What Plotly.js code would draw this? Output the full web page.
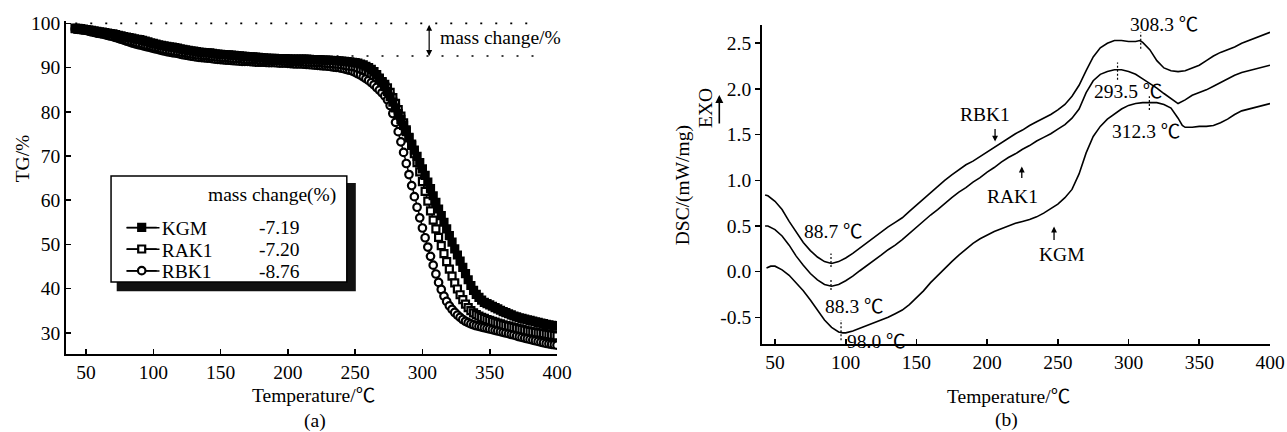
<!DOCTYPE html>
<html>
<head>
<meta charset="utf-8">
<script src="https://cdn.plot.ly/plotly-3.0.1.min.js"></script>
<style>html,body{margin:0;padding:0;background:#fff;}#chart{width:1287px;height:432px;}</style>
</head>
<body>
<div id="chart"></div>
<script>
// ---------- TG data (panel a) ----------
const tgTemp = [
 42,44,46,48,50,52,54,56,58,60,
 62,64,66,68,70,72,74,76,78,80,
 82,84,86,88,90,92,94,96,98,100,
 102,104,106,108,110,112,114,116,118,120,
 122,124,126,128,130,132,134,136,138,140,
 142,144,146,148,150,152,154,156,158,160,
 162,164,166,168,170,172,174,176,178,180,
 182,184,186,188,190,192,194,196,198,200,
 202,204,206,208,210,212,214,216,218,220,
 222,224,226,228,230,232,234,236,238,240,
 242,244,246,248,250,252,254,256,258,260,
 262,264,266,268,270,272,274,276,278,280,
 282,284,286,288,290,292,294,296,298,300,
 302,304,306,308,310,312,314,316,318,320,
 322,324,326,328,330,332,334,336,338,340,
 342,344,346,348,350,352,354,356,358,360,
 362,364,366,368,370,372,374,376,378,380,
 382,384,386,388,390,392,394,396,398,400];

const tgKGM = [
 98.9,98.85,98.8,98.7,98.6,98.5,98.4,98.3,98.2,98.1,
 98.0,97.9,97.8,97.7,97.6,97.45,97.3,97.15,97.0,96.9,
 96.8,96.65,96.5,96.4,96.3,96.15,96.0,95.8,95.6,95.45,
 95.3,95.15,95.0,94.9,94.8,94.7,94.6,94.5,94.4,94.25,
 94.1,94.0,93.9,93.8,93.7,93.6,93.5,93.45,93.4,93.35,
 93.3,93.2,93.1,93.05,93.0,92.95,92.9,92.85,92.8,92.75,
 92.7,92.65,92.6,92.55,92.5,92.45,92.4,92.35,92.3,92.25,
 92.2,92.15,92.1,92.1,92.1,92.05,92.0,92.0,92.0,91.95,
 91.9,91.9,91.9,91.9,91.9,91.9,91.9,91.85,91.8,91.8,
 91.8,91.75,91.7,91.7,91.7,91.65,91.6,91.55,91.5,91.45,
 91.4,91.35,91.3,91.2,91.1,91.0,90.8,90.6,90.3,90.0,
 89.6,89.1,88.4,87.6,86.7,85.7,84.6,83.4,82.2,80.9,
 79.6,78.3,76.9,75.5,74.1,72.7,71.3,69.9,68.5,67.1,
 65.6,64.1,62.6,61.0,59.5,58.0,56.5,55.0,53.5,52.0,
 50.5,49.0,47.6,46.2,44.8,43.4,42.0,40.7,39.6,38.7,
 38.0,37.4,36.9,36.6,36.3,36.0,35.7,35.4,35.1,34.8,
 34.55,34.3,34.05,33.8,33.6,33.4,33.25,33.1,32.95,32.8,
 32.65,32.5,32.35,32.2,32.05,31.9,31.8,31.7,31.6,31.5];

const tgRAK1 = [
 98.8,98.75,98.7,98.6,98.5,98.4,98.3,98.15,98.0,97.9,
 97.8,97.65,97.5,97.35,97.2,97.05,96.9,96.75,96.6,96.4,
 96.2,96.05,95.9,95.75,95.6,95.45,95.3,95.15,95.0,94.85,
 94.7,94.55,94.4,94.25,94.1,94.0,93.9,93.8,93.7,93.6,
 93.5,93.4,93.3,93.2,93.1,93.0,92.9,92.85,92.8,92.75,
 92.7,92.6,92.5,92.45,92.4,92.35,92.3,92.25,92.2,92.15,
 92.1,92.05,92.0,91.95,91.9,91.9,91.9,91.85,91.8,91.75,
 91.7,91.7,91.7,91.65,91.6,91.6,91.6,91.55,91.5,91.5,
 91.5,91.45,91.4,91.4,91.4,91.35,91.3,91.3,91.3,91.25,
 91.2,91.15,91.1,91.05,91.0,90.95,90.9,90.85,90.8,90.7,
 90.6,90.5,90.4,90.3,90.2,90.0,89.8,89.6,89.3,89.0,
 88.6,88.2,87.8,87.3,86.8,86.2,85.4,84.4,83.2,81.9,
 80.5,79.0,77.5,75.9,74.2,72.4,70.5,68.5,66.4,64.2,
 62.0,59.8,57.6,55.5,53.5,51.6,49.7,47.9,46.1,44.4,
 42.8,41.3,39.9,38.6,37.5,36.5,35.7,35.0,34.5,34.1,
 33.8,33.5,33.25,33.0,32.8,32.6,32.4,32.2,32.0,31.8,
 31.65,31.5,31.35,31.2,31.05,30.9,30.75,30.6,30.45,30.3,
 30.2,30.1,30.0,29.9,29.8,29.7,29.6,29.5,29.4,29.3];

const tgRBK1 = [
 98.7,98.65,98.6,98.5,98.4,98.25,98.1,97.95,97.8,97.7,
 97.6,97.45,97.3,97.15,97.0,96.8,96.6,96.4,96.2,96.0,
 95.8,95.6,95.4,95.25,95.1,94.95,94.8,94.65,94.5,94.35,
 94.2,94.05,93.9,93.75,93.6,93.5,93.4,93.3,93.2,93.05,
 92.9,92.8,92.7,92.6,92.5,92.4,92.3,92.25,92.2,92.15,
 92.1,92.0,91.9,91.85,91.8,91.75,91.7,91.65,91.6,91.55,
 91.5,91.45,91.4,91.4,91.4,91.35,91.3,91.25,91.2,91.2,
 91.2,91.15,91.1,91.1,91.1,91.05,91.0,91.0,91.0,90.95,
 90.9,90.85,90.8,90.8,90.8,90.75,90.7,90.65,90.6,90.55,
 90.5,90.45,90.4,90.35,90.3,90.2,90.1,90.05,90.0,89.85,
 89.7,89.55,89.4,89.2,88.9,88.6,88.3,87.9,87.5,87.1,
 86.6,86.1,85.5,84.9,84.3,83.6,82.7,81.4,79.6,77.6,
 75.5,73.2,70.8,68.3,65.8,63.3,60.8,58.4,56.0,53.7,
 51.5,49.4,47.3,45.3,43.3,41.4,39.8,38.3,37.1,36.1,
 35.3,34.6,34.0,33.5,33.0,32.6,32.3,32.0,31.8,31.6,
 31.45,31.3,31.15,31.0,30.85,30.7,30.55,30.4,30.25,30.1,
 29.95,29.8,29.65,29.5,29.3,29.1,28.95,28.8,28.65,28.5,
 28.35,28.2,28.05,27.9,27.75,27.6,27.5,27.4,27.3,27.2];

const sampleNames = ['KGM', 'RAK1', 'RBK1'];
const massChange = ['-7.19', '-7.20', '-8.76'];
const tgTickX = [50,100,150,200,250,300,350,400];
const tgTickY = [30,40,50,60,70,80,90,100];

// ---------- DSC data (panel b) ----------
const dscRBK1T = [43,45,50,55,60,65,70,75,80,85,90,95,100,105,110,115,120,125,130,135,140,145,150,155,160,165,170,175,180,185,190,195,200,205,210,215,220,225,230,235,240,245,250,255,260,265,270,275,280,285,290,295,300,305,308,310,315,320,325,330,335,340,345,350,355,360,365,370,375,380,385,390,395,400];
const dscRBK1 = [0.84,0.83,0.77,0.68,0.55,0.43,0.32,0.23,0.16,0.11,0.09,0.11,0.15,0.20,0.26,0.32,0.38,0.44,0.49,0.54,0.59,0.66,0.73,0.80,0.87,0.93,1.00,1.06,1.12,1.17,1.21,1.26,1.31,1.36,1.41,1.46,1.51,1.55,1.60,1.64,1.68,1.72,1.77,1.83,1.92,2.04,2.20,2.35,2.45,2.50,2.53,2.53,2.52,2.52,2.53,2.51,2.43,2.31,2.23,2.20,2.19,2.20,2.23,2.26,2.31,2.36,2.40,2.43,2.46,2.50,2.53,2.56,2.59,2.62];

const dscRAK1T = [43,45,50,55,60,65,70,75,80,85,90,95,100,105,110,115,120,125,130,135,140,145,150,155,160,165,170,175,180,185,190,195,200,205,210,215,220,225,230,235,240,245,250,255,260,265,270,275,280,285,290,295,300,305,310,315,320,325,330,335,340,345,350,355,360,365,370,375,380,385,390,395,400];
const dscRAK1 = [0.50,0.50,0.46,0.39,0.29,0.17,0.07,-0.02,-0.09,-0.14,-0.16,-0.14,-0.10,-0.05,0.01,0.07,0.12,0.18,0.24,0.29,0.35,0.42,0.49,0.56,0.62,0.68,0.75,0.81,0.87,0.92,0.98,1.03,1.09,1.14,1.20,1.25,1.29,1.34,1.38,1.43,1.47,1.51,1.56,1.61,1.68,1.78,1.96,2.09,2.16,2.19,2.21,2.21,2.19,2.16,2.11,2.06,2.01,1.95,1.89,1.84,1.88,1.93,1.96,1.99,2.03,2.07,2.11,2.15,2.18,2.20,2.22,2.24,2.26];

const dscKGMT = [44,47,50,55,60,65,70,75,80,85,90,95,98,100,105,110,115,120,125,130,135,140,145,150,155,160,165,170,175,180,185,190,195,200,205,210,215,220,225,230,235,240,245,250,255,260,265,270,275,280,285,290,295,300,305,310,315,320,325,330,335,338,340,345,350,355,360,365,370,375,380,385,390,395,400];
const dscKGM = [0.04,0.06,0.06,0.02,-0.04,-0.12,-0.21,-0.31,-0.42,-0.53,-0.61,-0.66,-0.67,-0.67,-0.65,-0.62,-0.59,-0.56,-0.53,-0.50,-0.46,-0.42,-0.36,-0.29,-0.21,-0.12,-0.04,0.03,0.11,0.18,0.25,0.31,0.36,0.40,0.44,0.47,0.50,0.53,0.55,0.57,0.60,0.64,0.69,0.74,0.81,0.90,1.07,1.30,1.48,1.59,1.67,1.73,1.78,1.82,1.84,1.85,1.85,1.85,1.83,1.79,1.68,1.60,1.58,1.58,1.59,1.59,1.60,1.63,1.67,1.72,1.76,1.78,1.80,1.82,1.84];

const dscTickX = [50,100,150,200,250,300,350,400];
const dscTickVals = [-0.5,0,0.5,1,1.5,2,2.5];
const dscTickText = ['-0.5','0.0','0.5','1.0','1.5','2.0','2.5'];
const dscPeakLabels = ['308.3 \u2103','293.5 \u2103','312.3 \u2103','88.7 \u2103','88.3 \u2103','98.0 \u2103'];

// ---------- figure ----------
const FONT = '"Liberation Serif", "Noto Sans CJK SC", serif';
const FS = 19.5;
const W = 1287, H = 432;
const px = v => v / W;           // pixel -> paper x
const py = v => 1 - v / H;       // pixel -> paper y
const legendRowsPx = [227.7, 249.3, 271];     // legend row centres (pixels)
const tgVal = p => 100 - (p - 23.3) / 4.42;   // pixel row -> TG axis value (for legend text)

const mk = {size: 7, line: {color: 'black', width: 2.2}};
const traces = [
  {x: tgTemp, y: tgRBK1, name: sampleNames[2], legend: 'legend3', type: 'scatter', mode: 'lines+markers', xaxis: 'x', yaxis: 'y',
   line: {color: 'black', width: 1.5}, marker: Object.assign({symbol: 'circle', color: 'white'}, mk, {size: 7.5})},
  {x: tgTemp, y: tgRAK1, name: sampleNames[1], legend: 'legend2', type: 'scatter', mode: 'lines+markers', xaxis: 'x', yaxis: 'y',
   line: {color: 'black', width: 1.5}, marker: Object.assign({symbol: 'square', color: 'white'}, mk)},
  {x: tgTemp, y: tgKGM, name: sampleNames[0], legend: 'legend', type: 'scatter', mode: 'lines+markers', xaxis: 'x', yaxis: 'y',
   line: {color: 'black', width: 1.5}, marker: Object.assign({symbol: 'square', color: 'black'}, mk)},
  {x: dscRBK1T, y: dscRBK1, name: 'RBK1 DSC', type: 'scatter', mode: 'lines', xaxis: 'x2', yaxis: 'y2', showlegend: false,
   line: {color: 'black', width: 1.6}},
  {x: dscRAK1T, y: dscRAK1, name: 'RAK1 DSC', type: 'scatter', mode: 'lines', xaxis: 'x2', yaxis: 'y2', showlegend: false,
   line: {color: 'black', width: 1.6}},
  {x: dscKGMT, y: dscKGM, name: 'KGM DSC', type: 'scatter', mode: 'lines', xaxis: 'x2', yaxis: 'y2', showlegend: false,
   line: {color: 'black', width: 1.6}}
];

const axisBase = {showline: true, linecolor: 'black', linewidth: 1.6, showgrid: false, zeroline: false,
  ticklen: 5, tickwidth: 1.6, tickcolor: 'black', tickfont: {family: FONT, size: FS, color: 'black'}, fixedrange: true};

const dot = {color: 'black', width: 1.2, dash: '2px,2px'};
const txt = (xref, yref, x, y, text, extra) => Object.assign({xref, yref, x, y, text, showarrow: false,
  font: {family: FONT, size: FS, color: 'black'}}, extra || {});
const legendLine = p => ({type: 'line', xref: 'paper', yref: 'paper', x0: px(126.5), x1: px(159.5), y0: py(p), y1: py(p),
  line: {color: 'black', width: 1.5}});
const legendBox = p => ({x: px(121.7), y: py(p), xanchor: 'left', yanchor: 'middle', bgcolor: 'rgba(0,0,0,0)', borderwidth: 0,
  font: {family: FONT, size: FS, color: 'black'}, itemclick: false, itemdoubleclick: false});

const layout = {
  width: W, height: H,
  margin: {l: 0, r: 0, t: 0, b: 0},
  paper_bgcolor: 'white', plot_bgcolor: 'white',
  font: {family: FONT, size: FS, color: 'black'},
  showlegend: true,
  xaxis: Object.assign({}, axisBase, {domain: [px(65.7), px(557)], range: [34.9, 400], tickvals: tgTickX, ticks: 'inside', anchor: 'y'}),
  yaxis: Object.assign({}, axisBase, {domain: [py(354), py(20.7)], range: [25.2, 100.6], tickvals: tgTickY, ticks: 'inside', anchor: 'x'}),
  xaxis2: Object.assign({}, axisBase, {domain: [px(761.7), px(1270)], range: [40.6, 400], tickvals: dscTickX, ticks: 'inside', anchor: 'y2'}),
  yaxis2: Object.assign({}, axisBase, {domain: [py(344), py(25)], range: [-0.792, 2.70], tickvals: dscTickVals, ticktext: dscTickText, ticks: 'outside', anchor: 'x2'}),
  legend: legendBox(legendRowsPx[0]),
  legend2: legendBox(legendRowsPx[1]),
  legend3: legendBox(legendRowsPx[2]),
  shapes: [
    {type: 'line', xref: 'x', yref: 'y', x0: 42, x1: 378.6, y0: 100, y1: 100, layer: 'below', line: {color: 'black', width: 1.6, dash: '2px,13px'}},
    {type: 'line', xref: 'x', yref: 'y', x0: 225, x1: 389.6, y0: 92.6, y1: 92.6, layer: 'below', line: {color: 'black', width: 1.6, dash: '2px,13px'}},
    {type: 'rect', xref: 'x', yref: 'y', x0: 72.8, x1: 250.5, y0: 39.4, y1: 63.9, fillcolor: '#111', line: {width: 0}},
    {type: 'rect', xref: 'x', yref: 'y', x0: 68.6, x1: 243.8, y0: 41.5, y1: 65.45, fillcolor: 'white', line: {color: 'black', width: 1.5}},
    legendLine(legendRowsPx[0]), legendLine(legendRowsPx[1]), legendLine(legendRowsPx[2]),
    {type: 'line', xref: 'x2', yref: 'y2', x0: 308.6, x1: 308.6, y0: 2.44, y1: 2.62, line: dot},
    {type: 'line', xref: 'x2', yref: 'y2', x0: 292.2, x1: 292.2, y0: 2.10, y1: 2.29, line: dot},
    {type: 'line', xref: 'x2', yref: 'y2', x0: 314.7, x1: 314.7, y0: 1.77, y1: 1.92, line: dot},
    {type: 'line', xref: 'x2', yref: 'y2', x0: 89.6, x1: 89.6, y0: 0.05, y1: 0.20, line: dot},
    {type: 'line', xref: 'x2', yref: 'y2', x0: 89.6, x1: 89.6, y0: -0.20, y1: -0.07, line: dot},
    {type: 'line', xref: 'x2', yref: 'y2', x0: 96.7, x1: 96.7, y0: -0.75, y1: -0.53, line: dot}
  ],
  annotations: [
    // panel (a)
    txt('x', 'y', 311.7, 96.9, 'mass change/%', {xanchor: 'left', yanchor: 'middle'}),
    {xref: 'x', yref: 'y', x: 305, y: 92.6, axref: 'x', ayref: 'y', ax: 305, ay: 100, text: '', showarrow: true,
      arrowhead: 2, startarrowhead: 2, arrowside: 'end+start', arrowsize: 1, arrowwidth: 1.2, arrowcolor: 'black'},
    txt('x', 'y', 237.4, 61.15, 'mass change(%)', {xanchor: 'right', yanchor: 'middle'}),
    txt('x', 'y', 176.9, tgVal(legendRowsPx[0]), massChange[0], {xanchor: 'left', yanchor: 'middle'}),
    txt('x', 'y', 176.9, tgVal(legendRowsPx[1]), massChange[1], {xanchor: 'left', yanchor: 'middle'}),
    txt('x', 'y', 176.9, tgVal(legendRowsPx[2]), massChange[2], {xanchor: 'left', yanchor: 'middle'}),
    txt('paper', 'paper', px(23.3), py(158), 'TG/%', {textangle: -90, xanchor: 'center', yanchor: 'middle'}),
    txt('paper', 'paper', px(313.8), py(395), 'Temperature/\u2103', {xanchor: 'center', yanchor: 'middle'}),
    txt('paper', 'paper', px(314.8), py(421), '(a)', {xanchor: 'center', yanchor: 'middle'}),
    // panel (b)
    txt('x2', 'paper', 325.3, py(24), dscPeakLabels[0], {xanchor: 'center', yanchor: 'middle'}),
    txt('x2', 'y2', 299.3, 1.97, dscPeakLabels[1], {xanchor: 'center', yanchor: 'middle'}),
    txt('x2', 'y2', 312.4, 1.533, dscPeakLabels[2], {xanchor: 'center', yanchor: 'middle'}),
    txt('x2', 'y2', 91.7, 0.438, dscPeakLabels[3], {xanchor: 'center', yanchor: 'middle'}),
    txt('x2', 'y2', 105.9, -0.376, dscPeakLabels[4], {xanchor: 'center', yanchor: 'middle'}),
    txt('x2', 'y2', 121.8, -0.767, dscPeakLabels[5], {xanchor: 'center', yanchor: 'middle'}),
    txt('x2', 'y2', 198.5, 1.716, sampleNames[2], {xanchor: 'center', yanchor: 'middle'}),
    txt('x2', 'y2', 217.6, 0.82, sampleNames[1], {xanchor: 'center', yanchor: 'middle'}),
    txt('x2', 'y2', 253, 0.183, sampleNames[0], {xanchor: 'center', yanchor: 'middle'}),
    {xref: 'x2', yref: 'y2', x: 205.6, y: 1.424, ax: 0, ay: -14, text: '', showarrow: true, arrowhead: 2, arrowsize: 0.9, arrowwidth: 1.3, arrowcolor: 'black'},
    {xref: 'x2', yref: 'y2', x: 224.5, y: 1.15, ax: 0, ay: 13, text: '', showarrow: true, arrowhead: 2, arrowsize: 0.9, arrowwidth: 1.3, arrowcolor: 'black'},
    {xref: 'x2', yref: 'y2', x: 247.3, y: 0.493, ax: 0, ay: 15, text: '', showarrow: true, arrowhead: 2, arrowsize: 0.9, arrowwidth: 1.3, arrowcolor: 'black'},
    txt('paper', 'paper', px(705), py(108), 'EXO', {textangle: -90, xanchor: 'center', yanchor: 'middle'}),
    {xref: 'paper', yref: 'paper', x: px(719.3), y: py(95), ax: 0, ay: 30, text: '', showarrow: true, arrowhead: 2, arrowsize: 1, arrowwidth: 1.6, arrowcolor: 'black'},
    txt('paper', 'paper', px(683.3), py(185), 'DSC/(mW/mg)', {textangle: -90, xanchor: 'center', yanchor: 'middle'}),
    txt('paper', 'paper', px(1008), py(396.7), 'Temperature/\u2103', {xanchor: 'center', yanchor: 'middle'}),
    txt('paper', 'paper', px(1006.7), py(420), '(b)', {xanchor: 'center', yanchor: 'middle'})
  ]
};

Plotly.newPlot('chart', traces, layout, {displayModeBar: false, staticPlot: true});
</script>
</body>
</html>
